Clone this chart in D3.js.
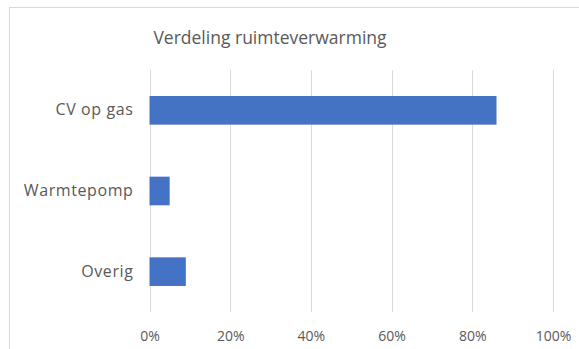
<!DOCTYPE html>
<html>
<head>
<meta charset="utf-8">
<script src="https://cdn.jsdelivr.net/npm/d3@7"></script>
<style>
  html, body { margin: 0; padding: 0; background: #fff; }
  svg { display: block; }
</style>
</head>
<body>
<svg id="chart" width="579" height="349"></svg>
<script>
// Share of each space-heating type
const categories = ["CV op gas", "Warmtepomp", "Overig"];
const values = [0.86, 0.05, 0.09];
const tickValues = [0, 0.2, 0.4, 0.6, 0.8, 1.0];
const title = "Verdeling ruimteverwarming";

const svg = d3.select("#chart");
const W = 579, H = 349;
const font = "'Open Sans', 'Noto Sans', sans-serif";
const textColor = "#595959";

// Chart frame
svg.append("rect")
  .attr("x", 9.5).attr("y", 7.5)
  .attr("width", W + 20).attr("height", H + 20)
  .attr("fill", "#fff")
  .attr("stroke", "#d9d9d9").attr("stroke-width", 1);

const plot = { left: 149.5, right: 553, top: 70, bottom: 312 };

const x = d3.scaleLinear().domain([0, 1]).range([plot.left, plot.right]);
const y = d3.scaleBand().domain(categories)
  .range([plot.top, plot.bottom])
  .paddingInner(0.645).paddingOuter(0.3225);

// Vertical gridlines
svg.append("g")
  .selectAll("line")
  .data(tickValues)
  .join("line")
  .attr("x1", d => Math.round(x(d)) + 0.5)
  .attr("x2", d => Math.round(x(d)) + 0.5)
  .attr("y1", plot.top).attr("y2", plot.bottom)
  .attr("stroke", "#d9d9d9").attr("stroke-width", 1);

// Bars
svg.append("g")
  .selectAll("rect")
  .data(categories)
  .join("rect")
  .attr("x", x(0))
  .attr("y", d => y(d))
  .attr("width", (d, i) => x(values[i]) - x(0))
  .attr("height", y.bandwidth())
  .attr("fill", "#4472c4");

// Category axis labels
const yAxis = d3.axisLeft(y).tickSize(0).tickPadding(16);
const gy = svg.append("g")
  .attr("transform", `translate(${plot.left},0)`)
  .call(yAxis);
gy.select(".domain").remove();
gy.selectAll("text")
  .attr("font-family", font)
  .attr("font-size", "16px")
  .attr("letter-spacing", "0.6px")
  .attr("fill", textColor);

// Percentage axis labels
const xAxis = d3.axisBottom(x).tickValues(tickValues)
  .tickFormat(d3.format(".0%")).tickSize(0).tickPadding(19);
const gx = svg.append("g")
  .attr("transform", `translate(0,${plot.bottom})`)
  .call(xAxis);
gx.select(".domain").remove();
gx.selectAll("text")
  .attr("font-family", font)
  .attr("font-size", "14px")
  .attr("fill", textColor);

// Title
svg.append("text")
  .attr("x", 270).attr("y", 44)
  .attr("text-anchor", "middle")
  .attr("font-family", font)
  .attr("font-size", "17.5px")
  .attr("fill", textColor)
  .text(title);
</script>
</body>
</html>
